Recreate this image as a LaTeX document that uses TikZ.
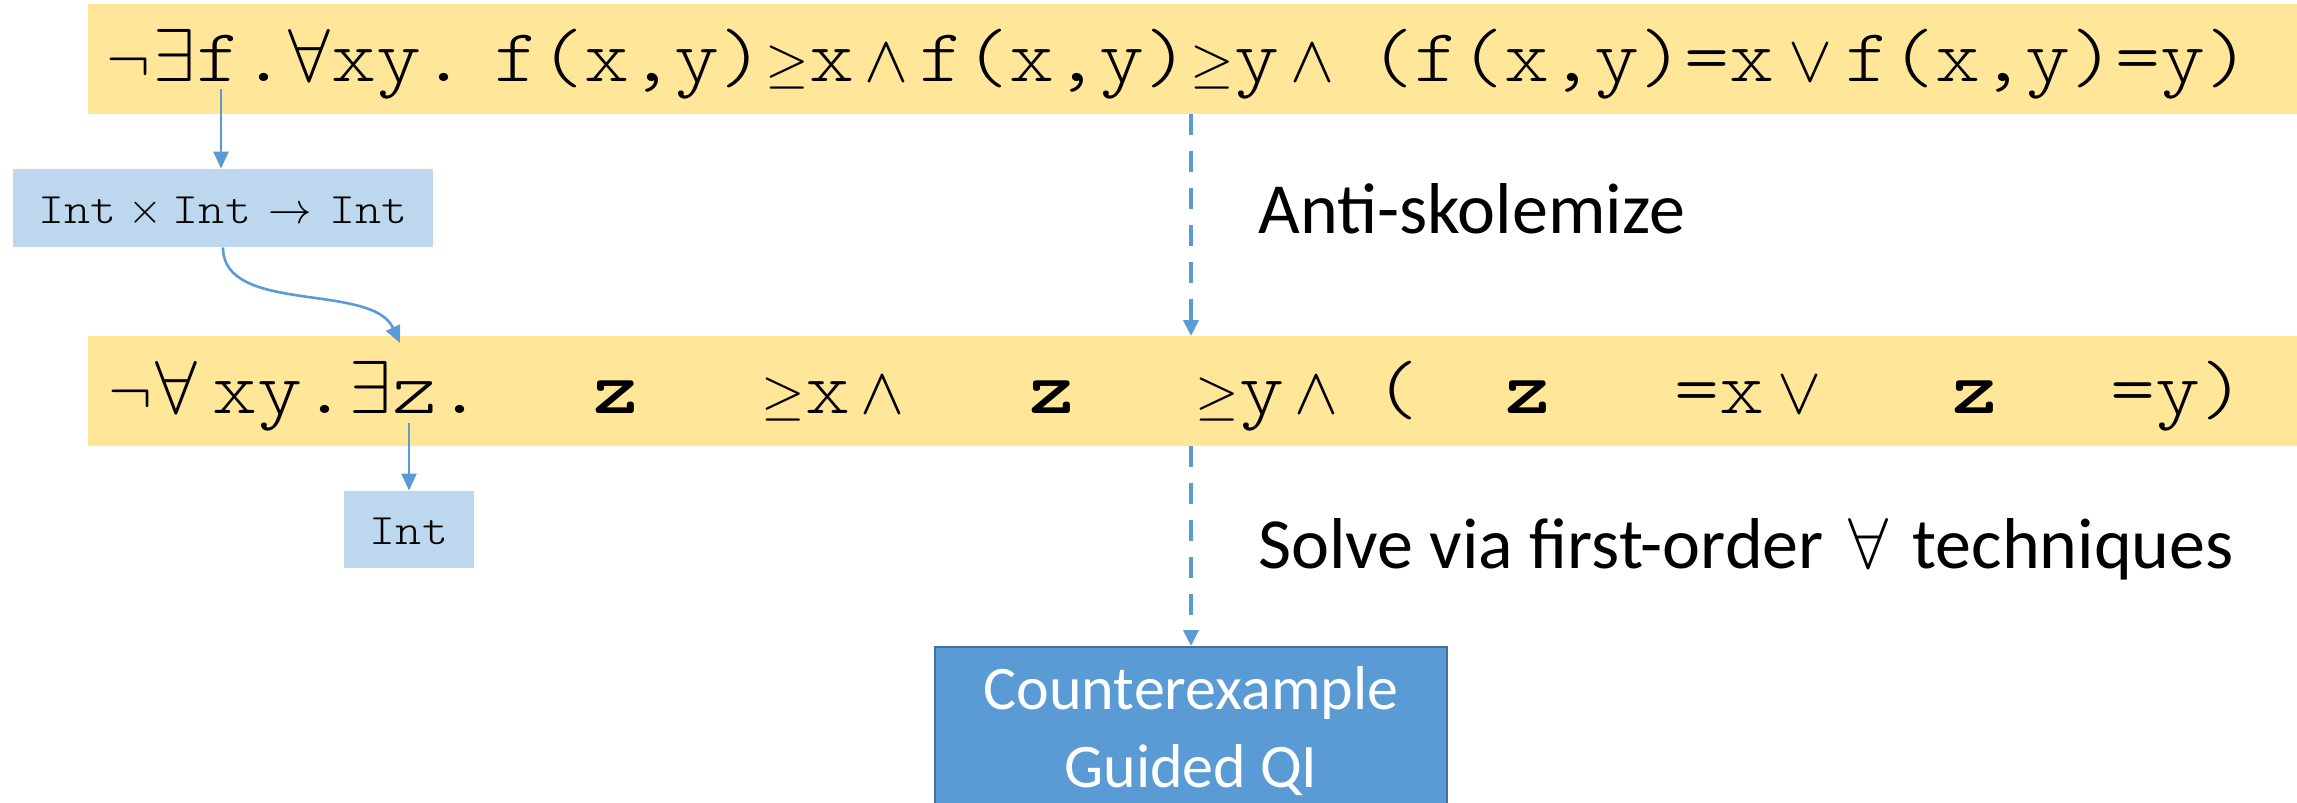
\RequirePackage{fix-cm}
\documentclass[tikz,border=0pt]{standalone}
\usepackage{fontspec}
\usetikzlibrary{arrows.meta}
\newfontfamily\monof{lmmonolt10-regular.otf}[FakeStretch=1.143]
\newfontfamily\monobf{lmmonolt10-bold.otf}[FakeStretch=1.143]
\newfontfamily\calf{Carlito}
\definecolor{baryellow}{HTML}{FFE699}
\definecolor{lightblue}{HTML}{BDD7EE}
\definecolor{accent}{HTML}{5B9BD5}
\definecolor{accentdark}{HTML}{41719C}
\newcommand{\cellbox}[3]{\makebox[#1]{\fontsize{#2}{#2}\selectfont$#3$}}
\newcommand{\Ng}{\cellbox{22.5pt}{33pt}{\neg}}
\newcommand{\Ex}{\cellbox{22.5pt}{37.5pt}{\exists}}
\newcommand{\Fa}{\cellbox{22.5pt}{37.5pt}{\forall}}
\newcommand{\Ge}{\cellbox{22.5pt}{28pt}{\geq}}
\newcommand{\An}{\cellbox{32.5pt}{33pt}{\wedge}}
\newcommand{\Or}{\cellbox{35.5pt}{33pt}{\vee}}
\tikzset{
  bar/.style={fill=baryellow, draw=none, inner sep=0pt, anchor=north west, minimum height=55pt},
  tybox/.style={fill=lightblue, draw=none, inner sep=0pt, text height=15pt, text depth=0pt,
    font=\monof\fontsize{21.7pt}{26pt}\selectfont},
  formula/.style={inner sep=0pt, anchor=base west, font=\monof\fontsize{37.5pt}{45pt}\selectfont},
  boldz/.style={inner sep=0pt, anchor=base, font=\monobf\fontsize{37.5pt}{45pt}\selectfont},
  lab/.style={inner sep=0pt, anchor=base west, font=\calf\fontsize{36pt}{43pt}\selectfont},
  boxlab/.style={inner sep=0pt, anchor=base, text=white, font=\calf\fontsize{31pt}{39pt}\selectfont},
  arr/.style={draw=accent, line width=1.3pt, -{Triangle[length=8.5pt,width=7.5pt]}},
  dasharr/.style={draw=accent, line width=2.2pt, dash pattern=on 10.5pt off 8pt, -{Triangle[length=8pt,width=7.5pt]}},
}
\begin{document}
\begin{tikzpicture}[x=0.5pt,y=-0.5pt]
\useasboundingbox (0,0) rectangle (2297,803);
% bars
\node[bar, minimum width=1104.5pt] (bar1) at (88,4) {};
\node[bar, minimum width=1104.5pt] (bar2) at (88,336) {};
% top formula
\node[formula] (ftop) at (106,81) {\Ng\Ex f.\Fa xy.\hspace{14pt}f(x,y)\Ge x\An f(x,y)\Ge y\An\hspace{12.5pt}(f(x,y)=x\Or f(x,y)=y)};
% second formula
\node[formula] (s1) at (108,413) {\Ng\Fa};
\node[formula] (s2) at (212.5,413) {xy.\Ex z.};
\node[boldz] (z1) at (616,413) {z};
\node[formula] (s3) at (760,413) {\Ge x\An};
\node[boldz] (z2) at (1052,413) {z};
\node[formula] (s4) at (1194,413) {\Ge y\An\hspace{12.5pt}(};
\node[boldz] (z3) at (1528,413) {z};
\node[formula] (s5) at (1674,413) {=x\Or};
\node[boldz] (z4) at (1975,413) {z};
\node[formula] (s6) at (2110,413) {=y)};
% type boxes
\node[tybox, minimum width=210pt, minimum height=39pt] (t1) at (223,208)
  {Int\makebox[28pt]{$\times$}Int\makebox[39pt]{$\rightarrow$}Int};
\node[tybox, minimum width=65pt, minimum height=38.5pt] (i1) at (409,529.5) {Int};
% CEGQI box
\node[fill=accent, draw=accentdark, line width=1pt, anchor=north, minimum width=256pt, minimum height=90pt, inner sep=0pt] (cegqi) at (1191,646) {};
\node[boxlab] (c1) at (1191,709) {Counterexample};
\node[boxlab] (c2) at (1191,787) {Guided QI};
% labels
\node[lab] (anti) at (1258,233) {Anti-skolemize};
\node[lab] (solve) at (1258,568) {Solve via first-order\hspace{4pt} $\forall$\hspace{4pt} techniques};
% connectors
\coordinate (fpt) at (221,89);
\draw[arr] (fpt) -- (fpt |- t1.north);
\coordinate (zin) at (400,343);
\draw[arr] (t1.south) .. controls (223,315) and (372,282) .. (zin);
\coordinate (zpt) at (409,423);
\draw[arr] (zpt) -- (zpt |- i1.north);
\coordinate (d1) at (1191,114);
\coordinate (d2) at (1191,336);
\coordinate (d3) at (1191,446);
\draw[dasharr] (d1) -- (d2);
\draw[dasharr] (d3) -- (d3 |- cegqi.north);
\end{tikzpicture}
\end{document}
